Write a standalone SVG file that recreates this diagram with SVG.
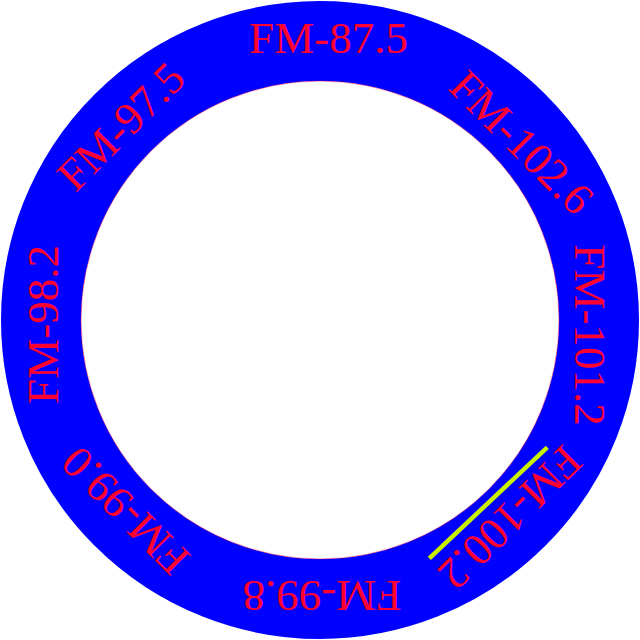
<svg xmlns="http://www.w3.org/2000/svg" width="640" height="640" viewBox="0 0 640 640">
<style>
.lbl{font-family:"Liberation Serif","Times New Roman",serif;font-size:45px;fill:#ff0030;text-anchor:middle}
</style>
<rect width="640" height="640" fill="#fff"/>
<g id="ring">
<circle cx="320" cy="320" r="279" fill="none" stroke="#0000ff" stroke-width="80"/>
<circle cx="320" cy="320" r="239" fill="none" stroke="#ff0030" stroke-width="0.8" stroke-opacity="0.5"/>
</g>
<g id="fm875"><text class="lbl" transform="translate(328.5,53)">FM-87.5</text></g>
<g id="fm1026"><text class="lbl" transform="translate(511,153) rotate(45)">FM-102.6</text></g>
<g id="fm1012"><text class="lbl" transform="translate(575,335) rotate(90)">FM-101.2</text></g>
<g id="fm1002"><text class="lbl" transform="translate(499.4,507) rotate(135)">FM-100.2</text></g>
<g id="fm998"><text class="lbl" transform="translate(322,581) rotate(180)">FM-99.8</text></g>
<g id="fm990"><text class="lbl" transform="translate(136,500) rotate(225)">FM-99.0</text></g>
<g id="fm982"><text class="lbl" transform="translate(58,324.5) rotate(270)">FM-98.2</text></g>
<g id="fm975"><text class="lbl" transform="translate(131.6,137) rotate(315)">FM-97.5</text></g>
<g id="connectors">
<line x1="429.3" y1="558.3" x2="547.3" y2="447.3" stroke="#c8f000" stroke-width="4.5"/>
</g>
</svg>
